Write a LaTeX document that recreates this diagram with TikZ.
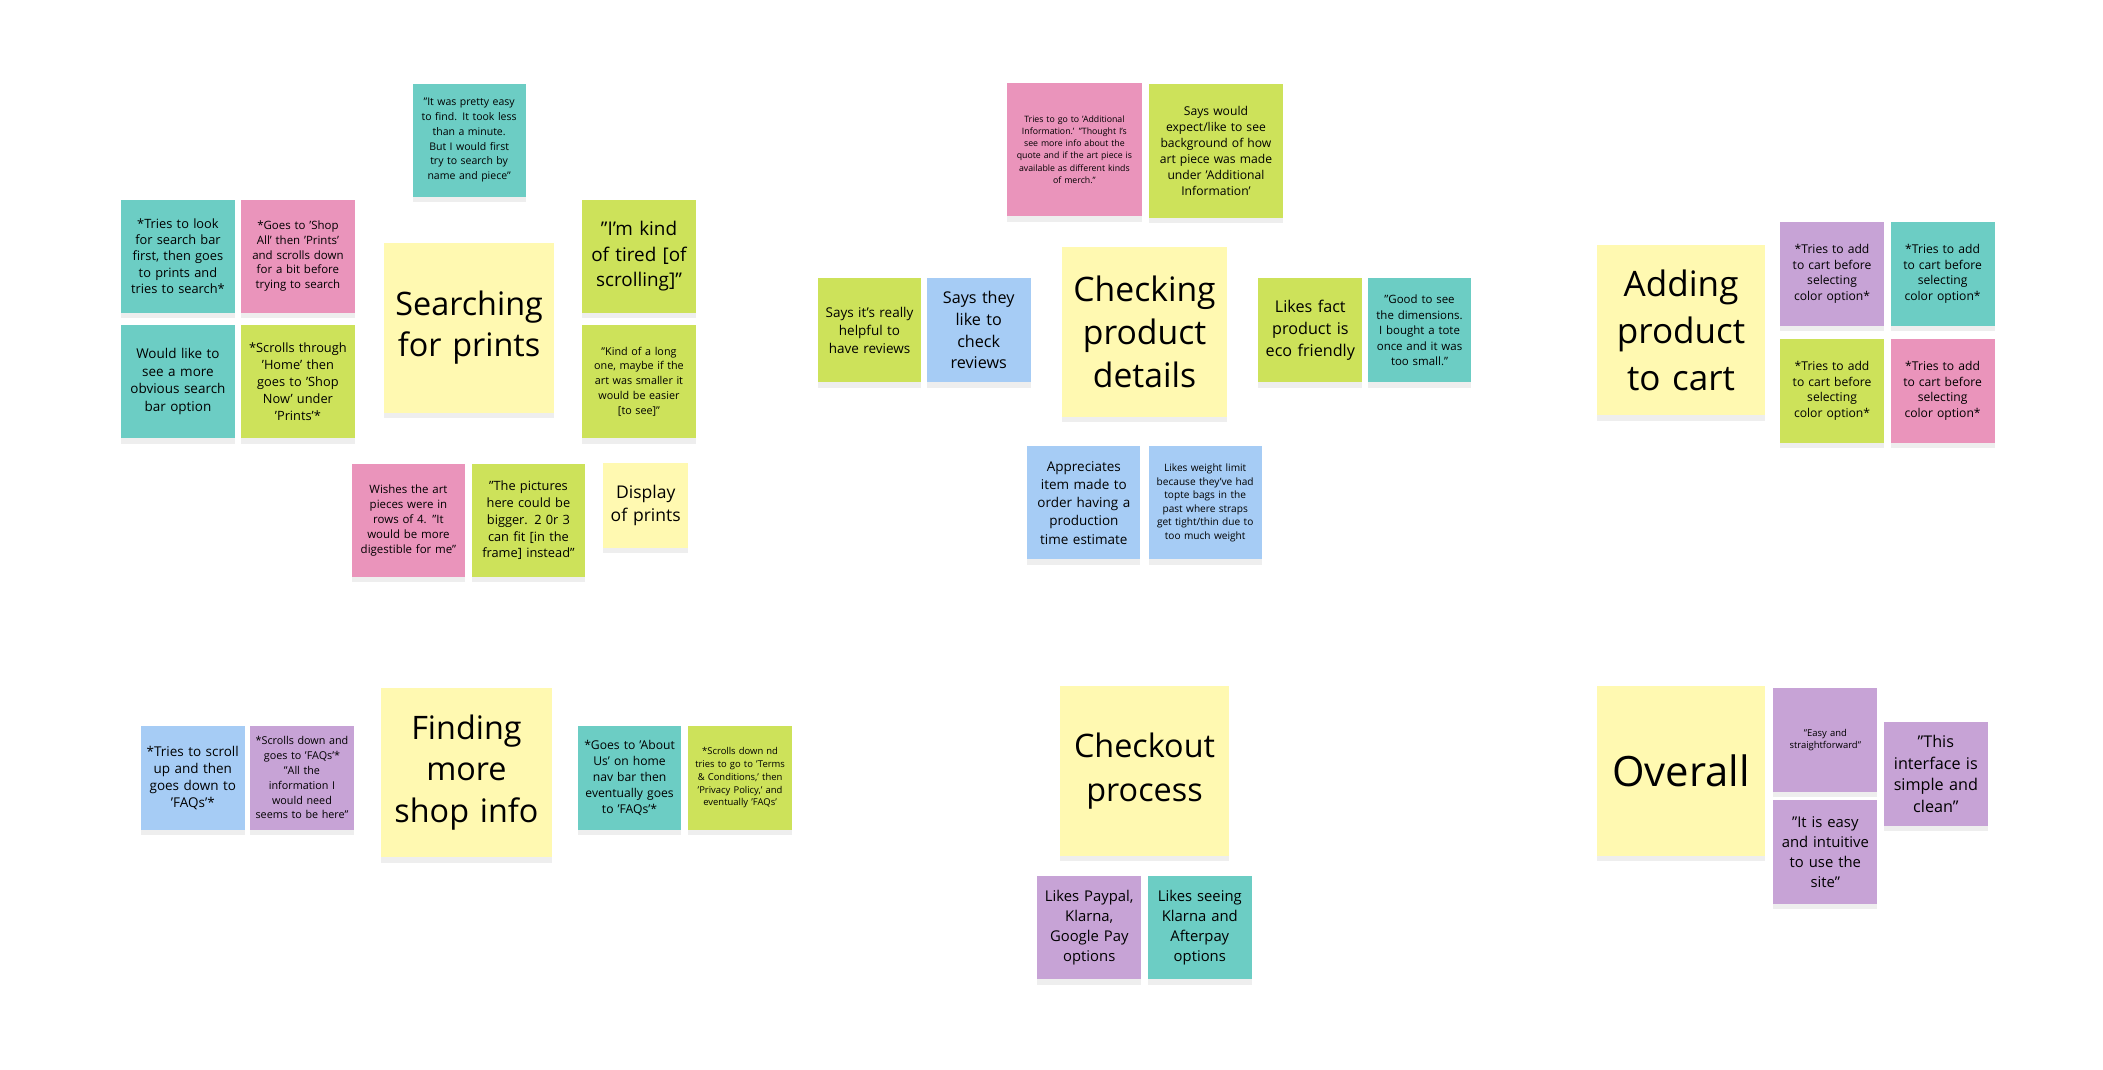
\documentclass[tikz,border=0pt]{standalone}
\usepackage{fontspec}
\setmainfont{Open Sans}
\usetikzlibrary{shadows}
\definecolor{noteyellow}{HTML}{FFF9B1}
\definecolor{noteteal}{HTML}{6CCDC4}
\definecolor{notepink}{HTML}{EA94BB}
\definecolor{notegreen}{HTML}{CDE25A}
\definecolor{noteblue}{HTML}{A6CCF5}
\definecolor{notepurple}{HTML}{C7A3D6}
\newcommand{\fs}[2]{\fontsize{#1}{#2}\selectfont}
\tikzset{
%Define sticky note styles
note/.style={inner sep=0pt, align=center, text width=#1, minimum height=#1,
  drop shadow={shadow xshift=0pt, shadow yshift=-4pt, opacity=.13}},
small note/.style={note=77pt, minimum width=77pt, text width=74pt},
mid note/.style={note=84pt, minimum width=84pt, text width=81pt},
big note/.style={note=126pt, minimum width=126pt, text width=120pt, fill=noteyellow},
}
\begin{document}
\begin{tikzpicture}[x=1pt, y=-1pt]
    \useasboundingbox[fill=white] (0,0) rectangle (1560,793);

    % searching for prints
    \node[big note, font=\fs{24}{30}] (search) at (348,243) {Searching\\for prints};
    \node[mid note, fill=noteteal, font=\fs{7.8}{11}] (searchA) at (348,104) {"It was pretty easy\\to find. It took less\\than a minute.\\But I would first\\try to search by\\name and piece"};
    \node[mid note, fill=noteteal, font=\fs{9.5}{12}] (searchB) at (132,190) {*Tries to look\\for search bar\\first, then goes\\to prints and\\tries to search*};
    \node[mid note, fill=notepink, font=\fs{8.5}{11}] (searchC) at (221,190) {*Goes to 'Shop\\All' then 'Prints'\\and scrolls down\\for a bit before\\trying to search};
    \node[mid note, fill=noteteal, font=\fs{10}{13}] (searchD) at (132,283) {Would like to\\see a more\\obvious search\\bar option};
    \node[mid note, fill=notegreen, font=\fs{9.5}{12.5}] (searchE) at (221,283) {*Scrolls through\\'Home' then\\goes to 'Shop\\Now' under\\'Prints'*};
    \node[mid note, fill=notegreen, font=\fs{14}{19}] (searchF) at (474,190) {"I'm kind\\of tired [of\\scrolling]"};
    \node[mid note, fill=notegreen, font=\fs{8}{11}] (searchG) at (474,283) {"Kind of a long\\one, maybe if the\\art was smaller it\\would be easier\\{[}to see{]}"};
    \node[mid note, fill=notepink, font=\fs{8.5}{11}] (searchH) at (303,386) {Wishes the art\\pieces were in\\rows of 4. "It\\would be more\\digestible for me"};
    \node[mid note, fill=notegreen, font=\fs{9.5}{12.5}] (searchI) at (392,386) {"The pictures\\here could be\\bigger. 2 0r 3\\can fit [in the\\frame] instead"};
    \node[note=63pt, minimum width=63pt, text width=60pt, fill=noteyellow, font=\fs{13}{17}] (display) at (479,375) {Display\\of prints};

    % checking product details
    \node[big note, minimum width=123pt, font=\fs{25}{32}] (check) at (849,246) {Checking\\product\\details};
    \node[note=99pt, minimum width=100pt, text width=97pt, fill=notepink, font=\fs{6.5}{9}] (checkA) at (797,111) {Tries to go to 'Additional\\Information.' "Thought I's\\see more info about the\\quote and if the art piece is\\available as different kinds\\of merch."};
    \node[note=99pt, minimum width=99pt, text width=96pt, fill=notegreen, font=\fs{9}{12}] (checkB) at (902,112) {Says would\\expect/like to see\\background of how\\art piece was made\\under 'Additional\\Information'};
    \node[small note, fill=notegreen, font=\fs{10}{13.5}] (checkC) at (645,245) {Says it's really\\helpful to\\have reviews};
    \node[small note, fill=noteblue, font=\fs{12}{16}] (checkD) at (726,245) {Says they\\like to\\check\\reviews};
    \node[small note, fill=notegreen, font=\fs{12}{16}] (checkE) at (972,245) {Likes fact\\product is\\eco friendly};
    \node[small note, fill=noteteal, font=\fs{8.5}{11.5}] (checkF) at (1053,245) {"Good to see\\the dimensions.\\I bought a tote\\once and it was\\too small."};
    \node[mid note, fill=noteblue, font=\fs{10}{13.5}] (checkG) at (804,373) {Appreciates\\item made to\\order having a\\production\\time estimate};
    \node[mid note, fill=noteblue, font=\fs{7.5}{10}] (checkH) at (894,373) {Likes weight limit\\because they've had\\topte bags in the\\past where straps\\get tight/thin due to\\too much weight};

    % adding product to cart
    \node[big note, minimum width=125pt, font=\fs{26}{35}] (cart) at (1247,245) {Adding\\product\\to cart};
    \node[small note, fill=notepurple, font=\fs{9}{11.5}] (cartA) at (1359,203) {*Tries to add\\to cart before\\selecting\\color option*};
    \node[small note, fill=noteteal, font=\fs{9}{11.5}] (cartB) at (1441,203) {*Tries to add\\to cart before\\selecting\\color option*};
    \node[small note, fill=notegreen, font=\fs{9}{11.5}] (cartC) at (1359,290) {*Tries to add\\to cart before\\selecting\\color option*};
    \node[small note, fill=notepink, font=\fs{9}{11.5}] (cartD) at (1441,290) {*Tries to add\\to cart before\\selecting\\color option*};

    % finding more shop info
    \node[big note, minimum width=127pt, font=\fs{24}{31}] (shop) at (346,573) {Finding\\more\\shop info};
    \node[small note, fill=noteblue, font=\fs{10}{12.5}] (shopA) at (143,577) {*Tries to scroll\\up and then\\goes down to\\'FAQs'*};
    \node[small note, fill=notepurple, font=\fs{8}{11}] (shopB) at (224,577) {*Scrolls down and\\goes to 'FAQs'*\\"All the\\information I\\would need\\seems to be here"};
    \node[small note, fill=noteteal, font=\fs{9}{12}] (shopC) at (467,577) {*Goes to 'About\\Us' on home\\nav bar then\\eventually goes\\to 'FAQs'*};
    \node[small note, fill=notegreen, font=\fs{7}{9.5}] (shopD) at (549,577) {*Scrolls down nd\\tries to go to 'Terms\\\& Conditions,' then\\'Privacy Policy,' and\\eventually 'FAQs'};

    % checkout process
    \node[big note, minimum width=125pt, font=\fs{24}{32}] (checkout) at (849,572) {Checkout\\process};
    \node[small note, fill=notepurple, font=\fs{11}{15}] (checkoutA) at (808,688) {Likes Paypal,\\Klarna,\\Google Pay\\options};
    \node[small note, fill=noteteal, font=\fs{11}{15}] (checkoutB) at (890,688) {Likes seeing\\Klarna and\\Afterpay\\options};

    % overall
    \node[big note, minimum width=125pt, font=\fs{31}{36}] (overall) at (1247,572) {Overall};
    \node[small note, fill=notepurple, font=\fs{7}{9}] (overallA) at (1354,549) {"Easy and\\straightforward"};
    \node[small note, fill=notepurple, font=\fs{11}{15}] (overallB) at (1354,632) {"It is easy\\and intuitive\\to use the\\site"};
    \node[small note, fill=notepurple, font=\fs{12}{16}] (overallC) at (1436,574) {"This\\interface is\\simple and\\clean"};
\end{tikzpicture}
\end{document}
